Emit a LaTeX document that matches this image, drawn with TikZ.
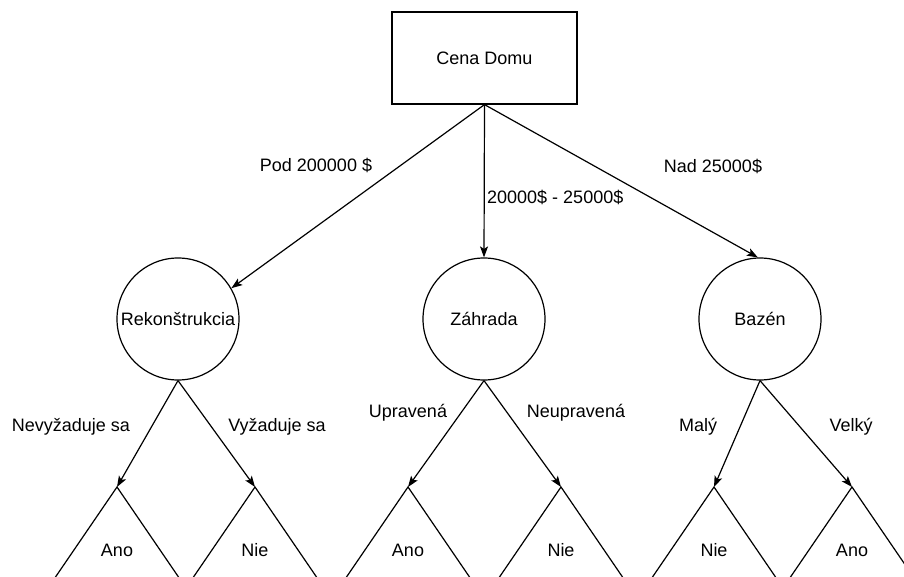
\documentclass[tikz,border=0pt]{standalone}
\usepackage{fontspec}
\setmainfont{Liberation Sans}
\usetikzlibrary{arrows.meta,calc}
\begin{document}
\begin{tikzpicture}[x=1pt,y=-1pt,
  every node/.style={font=\fontsize{18}{21}\selectfont, inner sep=0pt},
  rootbox/.style={draw, line width=1.2pt, minimum width=185pt, minimum height=92pt},
  decision/.style={draw, circle, line width=1.2pt, minimum size=122pt},
  link/.style={line width=1.2pt, -{Stealth[length=11pt,width=8pt,inset=2.5pt]}},
  leafline/.style={line width=1.2pt},
  lbl/.style={}]
\useasboundingbox (0,0) rectangle (904,577);
\clip (0,0) rectangle (904,577);

% root and the three decision nodes
\node[rootbox] (root) at (484.5,58) {Cena Domu};
\node[decision] (rek) at (178,319) {Rekonštrukcia};
\node[decision] (zah) at (484,319) {Záhrada};
\node[decision] (baz) at (760,319) {Bazén};

% first-level branches
\draw[link] (root.south) -- (rek.30);
\draw[link] (root.south) -- (zah.north);
\draw[link] (root.south) -- (baz.92);
\node[lbl] at (316,165) {Pod 200000 \$};
\node[lbl, anchor=west] at (487,197) {20000\$ - 25000\$};
\node[lbl] at (713,166) {Nad 25000\$};

% leaf apexes
\coordinate (l1) at (117,487);
\coordinate (l2) at (255,487);
\coordinate (l3) at (408,487);
\coordinate (l4) at (561,487);
\coordinate (l5) at (714,487);
\coordinate (l6) at (852,487);

% leaf triangles (open at the bottom)
\foreach \c in {l1,l2,l3,l4,l5,l6}{
  \draw[leafline] ($(\c)+(-82,120)$) -- (\c) -- ($(\c)+(82,120)$);
}

% second-level branches
\draw[link] (rek.south) -- (l1);
\draw[link] (rek.south) -- (l2);
\draw[link] (zah.south) -- (l3);
\draw[link] (zah.south) -- (l4);
\draw[link] (baz.south) -- (l5);
\draw[link] (baz.south) -- (l6);

\node[lbl] at (71,427) {Nevyžaduje sa};
\node[lbl] at (277,427) {Vyžaduje sa};
\node[lbl] at (408,413) {Upravená};
\node[lbl] at (576,413) {Neupravená};
\node[lbl] at (698,427) {Malý};
\node[lbl] at (851,427) {Velký};

% leaf texts
\node[lbl] at (117,550) {Ano};
\node[lbl] at (255,550) {Nie};
\node[lbl] at (408,550) {Ano};
\node[lbl] at (561,550) {Nie};
\node[lbl] at (714,550) {Nie};
\node[lbl] at (852,550) {Ano};
\end{tikzpicture}
\end{document}
